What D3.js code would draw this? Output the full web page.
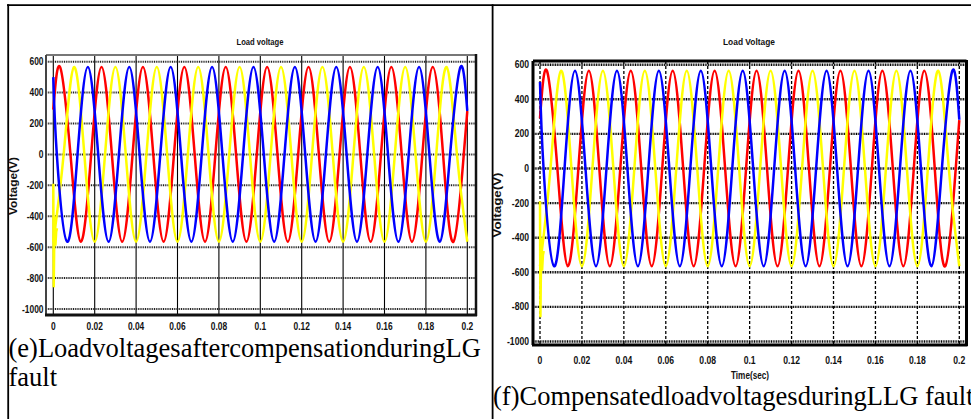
<!DOCTYPE html>
<html>
<head>
<meta charset="utf-8">
<script src="https://cdn.jsdelivr.net/npm/d3@7"></script>
<style>
  body { margin: 0; background: #fff; }
  svg { display: block; }
</style>
</head>
<body>
<div id="page"></div>
<script>
// ticks
const xTicks = [0, 0.02, 0.04, 0.06, 0.08, 0.1, 0.12, 0.14, 0.16, 0.18, 0.2];
const xTickLabels = ["0", "0.02", "0.04", "0.06", "0.08", "0.1", "0.12", "0.14", "0.16", "0.18", "0.2"];
const yTicks = [600, 400, 200, 0, -200, -400, -600, -800, -1000];

// phase voltages: peaks, zero crossings, troughs (sec, V)
const redT = [0, 0.0033, 0.0083, 0.0133, 0.0183, 0.0233, 0.0283, 0.0333, 0.0383, 0.0433, 0.0483,
  0.0533, 0.0583, 0.0633, 0.0683, 0.0733, 0.0783, 0.0833, 0.0883, 0.0933, 0.0983,
  0.1033, 0.1083, 0.1133, 0.1183, 0.1233, 0.1283, 0.1333, 0.1383, 0.1433, 0.1483,
  0.1533, 0.1583, 0.1633, 0.1683, 0.1733, 0.1783, 0.1833, 0.1883, 0.1933, 0.1983, 0.2];
const redV = [290, 565, 0, -565, 0, 565, 0, -565, 0, 565, 0, -565, 0, 565, 0, -565, 0, 565, 0, -565, 0,
  565, 0, -565, 0, 565, 0, -565, 0, 565, 0, -565, 0, 565, 0, -565, 0, 565, 0, -565, 0, 280];

const yellowT = [0, 0.005, 0.01, 0.015, 0.02, 0.025, 0.03, 0.035, 0.04, 0.045, 0.05,
  0.055, 0.06, 0.065, 0.07, 0.075, 0.08, 0.085, 0.09, 0.095, 0.1,
  0.105, 0.11, 0.115, 0.12, 0.125, 0.13, 0.135, 0.14, 0.145, 0.15,
  0.155, 0.16, 0.165, 0.17, 0.175, 0.18, 0.185, 0.19, 0.195, 0.2];
const yellowV = [-565, 0, 565, 0, -565, 0, 565, 0, -565, 0, 565, 0, -565, 0, 565, 0, -565, 0, 565, 0, -565,
  0, 565, 0, -565, 0, 565, 0, -565, 0, 565, 0, -565, 0, 565, 0, -565, 0, 565, 0, -565];
// switching transient at t = 0
const yellowStartT = [0, 0.0002, 0.0006, 0.001, 0.0014, 0.0018];
const yellowStartV = [-190, -860, -400, -590, -500, -477];

const blueT = [0, 0.0017, 0.0067, 0.0117, 0.0167, 0.0217, 0.0267, 0.0317, 0.0367, 0.0417, 0.0467,
  0.0517, 0.0567, 0.0617, 0.0667, 0.0717, 0.0767, 0.0817, 0.0867, 0.0917, 0.0967,
  0.1017, 0.1067, 0.1117, 0.1167, 0.1217, 0.1267, 0.1317, 0.1367, 0.1417, 0.1467,
  0.1517, 0.1567, 0.1617, 0.1667, 0.1717, 0.1767, 0.1817, 0.1867, 0.1917, 0.1967, 0.2];
const blueV = [500, 0, -565, 0, 565, 0, -565, 0, 565, 0, -565, 0, 565, 0, -565, 0, 565, 0, -565, 0, 565,
  0, -565, 0, 565, 0, -565, 0, 565, 0, -565, 0, 565, 0, -565, 0, 565, 0, -565, 0, 565, 282];

const captionLeft = ["(e)LoadvoltagesaftercompensationduringLG", "fault"];
const captionRight = ["(f)CompensatedloadvoltagesduringLLG fault"];

let width = 971;
let height = 419;

let svg = d3.select("#page").append("svg").attr("width", width).attr("height", height)

// layout of the two pasted figures
const charts = [
  {
    id: "e", title: "Load voltage", titleX: 260, titleLen: 47,
    box: { l: 46, r: 476, t: 55, b: 315 },
    x0: 53.3, x1: 467.3, yTop: 61.7, yBot: 309,
    yLabelX: 13, yLabelY: 186, yLabelLen: 58,
    tickLabelRight: 43.5, xLabelY: 326.5, squeeze: 0.84,
    vGrid: { stroke: "#000", width: 1.1, dash: null },
    hGrid: { stroke: "#222", width: 2, dash: "1,0.8" },
    frame: { t: ["#777", 2], l: ["#444", 2], r: ["#111", 2.5], b: ["#111", 3] },
    xTitle: null, clipBottom: 334
  },
  {
    id: "f", title: "Load Voltage", titleX: 749, titleLen: 52,
    box: { l: 533, r: 966.5, t: 61, b: 345 },
    x0: 540, x1: 959.3, yTop: 64.7, yBot: 341.5,
    yLabelX: 497, yLabelY: 205, yLabelLen: 65,
    tickLabelRight: 529, xLabelY: 360, squeeze: 0.86,
    vGrid: { stroke: "#000", width: 1.3, dash: "3,2" },
    hGrid: { stroke: "#000", width: 2.4, dash: "1,0.7" },
    frame: { t: ["#000", 3], l: ["#000", 3], r: ["#000", 3], b: ["#000", 3] },
    xTitle: "Time(sec)", clipBottom: 380.5
  }
];

const tickFont = "'Liberation Sans', Arial, sans-serif";

function squeeze(sel, f) {
  sel.each(function () {
    const w = this.getComputedTextLength();
    d3.select(this).attr("textLength", w * f).attr("lengthAdjust", "spacingAndGlyphs");
  });
}

charts.forEach(c => {
  svg.append("clipPath").attr("id", "clip-" + c.id)
    .append("rect").attr("x", 0).attr("y", 0).attr("width", width).attr("height", c.clipBottom);
  let g = svg.append("g").attr("clip-path", "url(#clip-" + c.id + ")");

  const x = d3.scaleLinear().domain([0, 0.2]).range([c.x0, c.x1]);
  const y = d3.scaleLinear().domain([600, -1000]).range([c.yTop, c.yBot]);

  // grid
  g.append("g").selectAll("line").data(xTicks).enter().append("line")
    .attr("x1", d => x(d)).attr("x2", d => x(d))
    .attr("y1", c.box.t).attr("y2", c.box.b)
    .attr("stroke", c.vGrid.stroke).attr("stroke-width", c.vGrid.width)
    .attr("stroke-dasharray", c.vGrid.dash);
  g.append("g").selectAll("line").data(yTicks).enter().append("line")
    .attr("x1", c.box.l).attr("x2", c.box.r)
    .attr("y1", d => y(d)).attr("y2", d => y(d))
    .attr("stroke", c.hGrid.stroke).attr("stroke-width", c.hGrid.width)
    .attr("stroke-dasharray", c.hGrid.dash);

  // waveforms
  const spline = d3.line().x(d => x(d[0])).y(d => y(d[1])).curve(d3.curveNatural);
  const straight = d3.line().x(d => x(d[0])).y(d => y(d[1]));
  const series = [
    { t: redT, v: redV, color: "#ff0000" },
    { t: yellowT, v: yellowV, color: "#ffff00" },
    { t: blueT, v: blueV, color: "#0000ff" }
  ];
  series.forEach(s => {
    g.append("path").datum(d3.zip(s.t, s.v))
      .attr("d", spline).attr("fill", "none")
      .attr("stroke", s.color).attr("stroke-width", 2.5);
  });
  g.append("path").datum(d3.zip(yellowStartT, yellowStartV))
    .attr("d", straight).attr("fill", "none")
    .attr("stroke", "#ffff00").attr("stroke-width", 2.5);

  // axes frame
  const f = c.frame, b = c.box;
  g.append("line").attr("x1", b.l).attr("x2", b.r).attr("y1", b.t).attr("y2", b.t)
    .attr("stroke", f.t[0]).attr("stroke-width", f.t[1]);
  g.append("line").attr("x1", b.l).attr("x2", b.l).attr("y1", b.t).attr("y2", b.b)
    .attr("stroke", f.l[0]).attr("stroke-width", f.l[1]);
  g.append("line").attr("x1", b.r).attr("x2", b.r).attr("y1", b.t - 1).attr("y2", b.b + 1)
    .attr("stroke", f.r[0]).attr("stroke-width", f.r[1]);
  g.append("line").attr("x1", b.l - 1).attr("x2", b.r + 1).attr("y1", b.b).attr("y2", b.b)
    .attr("stroke", f.b[0]).attr("stroke-width", f.b[1]);

  // tick labels
  let yl = g.append("g").selectAll("text").data(yTicks).enter().append("text")
    .attr("x", c.tickLabelRight).attr("y", d => y(d))
    .attr("dy", "0.35em").attr("text-anchor", "end")
    .style("font-family", tickFont).style("font-size", "10px").style("font-weight", "bold")
    .attr("fill", "#111")
    .text(d => d);
  squeeze(yl, c.squeeze);
  let xl = g.append("g").selectAll("text").data(xTicks).enter().append("text")
    .attr("x", d => x(d)).attr("y", c.xLabelY)
    .attr("dy", "0.35em").attr("text-anchor", "middle")
    .style("font-family", tickFont).style("font-size", "10px").style("font-weight", "bold")
    .attr("fill", "#111")
    .text((d, i) => xTickLabels[i]);
  squeeze(xl, c.squeeze);

  // titles
  g.append("text").attr("x", c.titleX).attr("y", 42).attr("dy", "0.35em")
    .attr("text-anchor", "middle")
    .style("font-family", tickFont).style("font-size", "8.5px").style("font-weight", "bold")
    .attr("fill", "#111")
    .attr("textLength", c.titleLen).attr("lengthAdjust", "spacingAndGlyphs")
    .text(c.title);
  g.append("text")
    .attr("transform", "translate(" + c.yLabelX + "," + c.yLabelY + ") rotate(-90)")
    .attr("dy", "0.35em").attr("text-anchor", "middle")
    .style("font-family", tickFont).style("font-size", "10px").style("font-weight", "bold")
    .attr("fill", "#111")
    .attr("textLength", c.yLabelLen).attr("lengthAdjust", "spacingAndGlyphs")
    .text("Voltage(V)");
  if (c.xTitle) {
    g.append("text").attr("x", 750).attr("y", 378.5)
      .attr("text-anchor", "middle")
      .style("font-family", tickFont).style("font-size", "10px").style("font-weight", "bold")
      .attr("fill", "#111")
      .attr("textLength", 38).attr("lengthAdjust", "spacingAndGlyphs")
      .text(c.xTitle);
  }
});

// table rules
svg.append("line").attr("x1", 7).attr("x2", width).attr("y1", 5.2).attr("y2", 5.2)
  .attr("stroke", "#000").attr("stroke-width", 1.8);
svg.append("line").attr("x1", 8.2).attr("x2", 8.2).attr("y1", 4.3).attr("y2", height)
  .attr("stroke", "#000").attr("stroke-width", 1.8);
svg.append("line").attr("x1", 492.6).attr("x2", 492.6).attr("y1", 4.3).attr("y2", height)
  .attr("stroke", "#000").attr("stroke-width", 1.8);

// captions
const serif = "'Liberation Serif', 'Times New Roman', serif";
svg.append("g").selectAll("text").data(captionLeft).enter().append("text")
  .attr("x", 8.5).attr("y", (d, i) => 356.5 + i * 29)
  .style("font-family", serif).style("font-size", "26.5px").attr("fill", "#000")
  .text(d => d);
svg.append("g").selectAll("text").data(captionRight).enter().append("text")
  .attr("x", 493).attr("y", 404.5)
  .style("font-family", serif).style("font-size", "26.5px").attr("fill", "#000")
  .text(d => d);
</script>
</body>
</html>
